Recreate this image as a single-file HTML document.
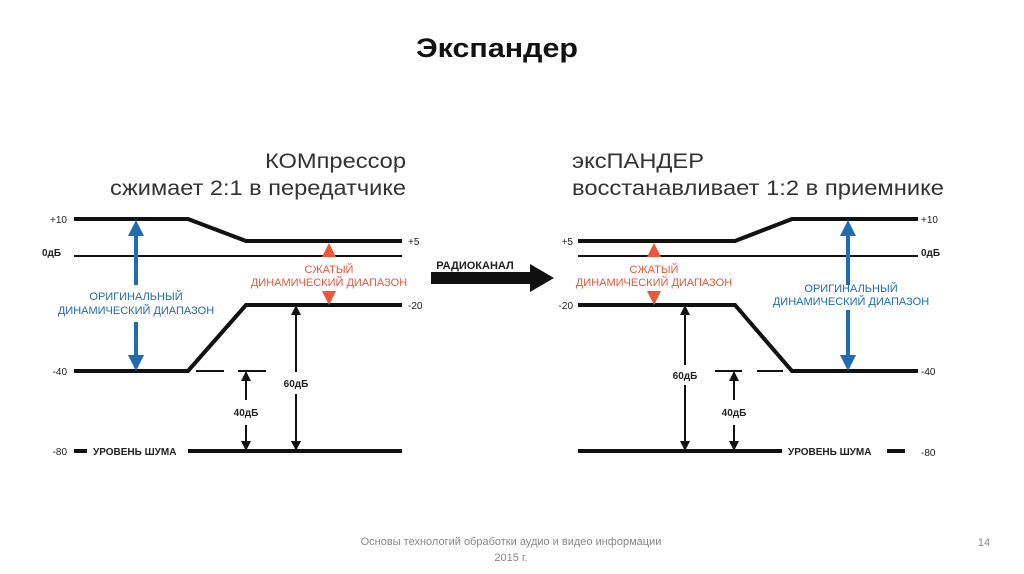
<!DOCTYPE html>
<html><head><meta charset="utf-8"><style>
html,body{margin:0;padding:0;background:#fff;width:1024px;height:574px;overflow:hidden}
svg{display:block}
text{font-family:"Liberation Sans","DejaVu Sans",sans-serif}
</style></head><body>
<svg width="1024" height="574" viewBox="0 0 1024 574">
<text x="497" y="57" font-size="27" font-weight="bold" text-anchor="middle" fill="#111" textLength="162" lengthAdjust="spacingAndGlyphs">Экспандер</text>
<g font-size="21" fill="#333">
<text x="265" y="168" textLength="141" lengthAdjust="spacingAndGlyphs">КОМпрессор</text>
<text x="110" y="195" textLength="296" lengthAdjust="spacingAndGlyphs">сжимает 2:1 в передатчике</text>
<text x="572" y="168" textLength="132" lengthAdjust="spacingAndGlyphs">эксПАНДЕР</text>
<text x="572" y="195" textLength="372" lengthAdjust="spacingAndGlyphs">восстанавливает 1:2 в приемнике</text>
</g>
<g stroke="#111" fill="none">
<polyline points="74,219 188,219 246,241 402,241" stroke-width="4"/>
<line x1="74" y1="256" x2="402" y2="256" stroke-width="2"/>
<polyline points="74,371 188,371 246,305 402,305" stroke-width="4"/>
<line x1="196" y1="371" x2="224" y2="371" stroke-width="2"/>
<line x1="238" y1="371" x2="266" y2="371" stroke-width="2"/>
<line x1="74" y1="451" x2="87" y2="451" stroke-width="4"/>
<line x1="188" y1="451" x2="402" y2="451" stroke-width="4"/>
<polyline points="578,241 735,241 792,219 918,219" stroke-width="4"/>
<line x1="578" y1="256" x2="918" y2="256" stroke-width="2"/>
<polyline points="578,305 735,305 792,371 918,371" stroke-width="4"/>
<line x1="715" y1="371" x2="742" y2="371" stroke-width="2"/>
<line x1="757" y1="371" x2="783" y2="371" stroke-width="2"/>
<line x1="578" y1="451" x2="782" y2="451" stroke-width="4"/>
<line x1="887" y1="451" x2="905" y2="451" stroke-width="4"/>
<g stroke-width="2">
<line x1="246" y1="380" x2="246" y2="400"/><line x1="246" y1="425" x2="246" y2="442"/>
<line x1="296" y1="314" x2="296" y2="372"/><line x1="296" y1="394" x2="296" y2="442"/>
<line x1="685" y1="314" x2="685" y2="365"/><line x1="685" y1="385" x2="685" y2="442"/>
<line x1="734" y1="380" x2="734" y2="400"/><line x1="734" y1="425" x2="734" y2="442"/>
</g>
</g>
<g fill="#111">
<path d="M246,371 l-5,10 h10z M246,451 l-5,-10 h10z"/>
<path d="M296,305 l-5,10 h10z M296,451 l-5,-10 h10z"/>
<path d="M685,305 l-5,10 h10z M685,451 l-5,-10 h10z"/>
<path d="M734,371 l-5,10 h10z M734,451 l-5,-10 h10z"/>
<path d="M431,272 H530 V264 L554,278 L530,292 V284 H431z"/>
</g>
<g stroke="#1f6bb5" stroke-width="4">
<line x1="136" y1="232" x2="136" y2="285"/><line x1="136" y1="322" x2="136" y2="357"/>
<line x1="848" y1="232" x2="848" y2="285"/><line x1="848" y1="310" x2="848" y2="357"/>
</g>
<g fill="#1f6bb5">
<path d="M136,220 l-8,16 h16z M136,371 l-8,-16 h16z"/>
<path d="M848,220 l-8,16 h16z M848,371 l-8,-16 h16z"/>
</g>
<g fill="#ef553a">
<path d="M329,243 l-7,14 h14z M329,305 l-7,-14 h14z"/>
<path d="M654,243 l-7,14 h14z M654,305 l-7,-14 h14z"/>
</g>
<g font-size="11" fill="#1f6bb5" text-anchor="middle">
<text x="136" y="300">ОРИГИНАЛЬНЫЙ</text>
<text x="136" y="314">ДИНАМИЧЕСКИЙ ДИАПАЗОН</text>
<text x="851" y="292">ОРИГИНАЛЬНЫЙ</text>
<text x="851" y="305">ДИНАМИЧЕСКИЙ ДИАПАЗОН</text>
</g>
<g font-size="11" fill="#ef553a" text-anchor="middle">
<text x="329" y="273">СЖАТЫЙ</text>
<text x="329" y="286">ДИНАМИЧЕСКИЙ ДИАПАЗОН</text>
<text x="654" y="273">СЖАТЫЙ</text>
<text x="654" y="286">ДИНАМИЧЕСКИЙ ДИАПАЗОН</text>
</g>
<g font-size="10" fill="#222">
<text x="67" y="223" text-anchor="end">+10</text>
<text x="42" y="256" font-weight="bold">0дБ</text>
<text x="67" y="375" text-anchor="end">-40</text>
<text x="67" y="455" text-anchor="end">-80</text>
<text x="93" y="455" font-weight="bold">УРОВЕНЬ ШУМА</text>
<text x="408" y="245">+5</text>
<text x="408" y="309">-20</text>
<text x="246" y="416" text-anchor="middle" font-weight="bold">40дБ</text>
<text x="296" y="387" text-anchor="middle" font-weight="bold">60дБ</text>
<text x="475" y="269" text-anchor="middle" font-size="11" font-weight="bold">РАДИОКАНАЛ</text>
<text x="573" y="245" text-anchor="end">+5</text>
<text x="573" y="309" text-anchor="end">-20</text>
<text x="685" y="379" text-anchor="middle" font-weight="bold">60дБ</text>
<text x="734" y="416" text-anchor="middle" font-weight="bold">40дБ</text>
<text x="788" y="455" font-weight="bold">УРОВЕНЬ ШУМА</text>
<text x="921" y="223">+10</text>
<text x="921" y="256" font-weight="bold">0дБ</text>
<text x="921" y="375">-40</text>
<text x="921" y="456">-80</text>
</g>
<g font-size="11" fill="#888" text-anchor="middle">
<text x="511" y="545">Основы технологий обработки аудио и видео информации</text>
<text x="511" y="561">2015 г.</text>
<text x="984" y="546">14</text>
</g>
</svg>
</body></html>
